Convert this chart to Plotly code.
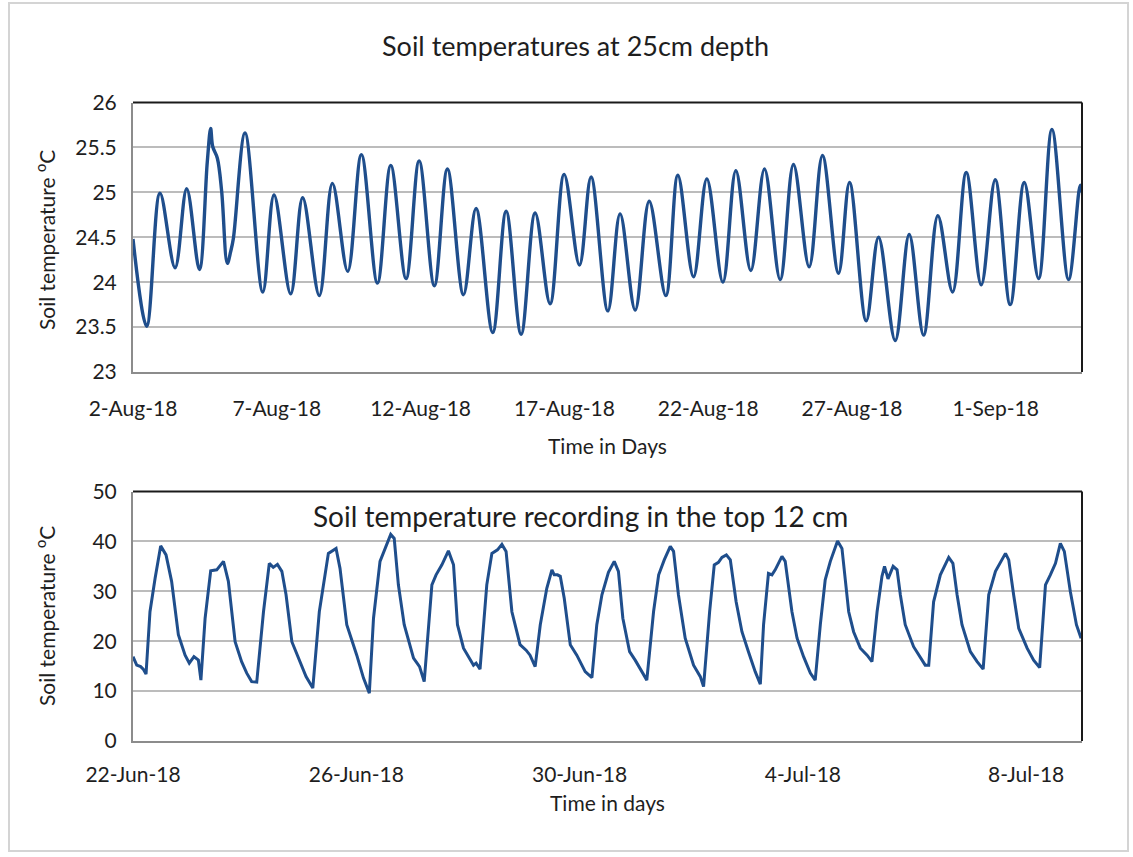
import pandas as pd
import plotly.graph_objects as go

W, H = 1133, 857

# ---------------- Data: 25 cm depth (hours since 2-Aug-18 00:00) ----------------
deep_start = "2018-08-02 00:00"
deep_hours = [0, 11.4, 22.5, 35.1, 44.8, 55.4, 62.0, 64.8, 66.5, 70.4, 74.0, 78.7, 81.5, 83.8,
              93.5, 108.3, 117.7, 131.6, 141.6, 155.5, 166.4, 179.2, 190.6, 204.0, 215.1,
              227.9, 238.8, 251.5, 262.4, 275.8, 286.3, 300.2, 311.4, 323.9, 335.6, 348.1,
              359.8, 372.6, 382.3, 396.3, 406.5, 419.1, 430.8, 444.7, 454.7, 467.8, 478.9,
              492.3, 503.1, 515.6, 527.0, 540.1, 551.2, 564.3, 575.4, 588.8, 598.0, 611.9,
              622.2, 636.1, 647.8, 659.8, 671.7, 684.0, 695.4, 707.9, 719.6, 732.1, 743.8,
              755.8, 766.9, 780.8, 790.5, 792.0]
deep_temp = [24.48, 23.51, 24.99, 24.16, 25.04, 24.14, 25.34, 25.71, 25.51, 25.38, 25.01, 24.21,
             24.34, 24.49, 25.66, 23.89, 24.97, 23.87, 24.94, 23.85, 25.10, 24.12, 25.42, 23.99,
             25.30, 24.04, 25.35, 23.96, 25.26, 23.86, 24.82, 23.44, 24.79, 23.42, 24.77, 23.76,
             25.20, 24.19, 25.17, 23.68, 24.76, 23.69, 24.90, 23.85, 25.19, 24.06, 25.15, 24.00,
             25.24, 24.13, 25.26, 24.03, 25.31, 24.17, 25.41, 24.10, 25.11, 23.57, 24.50, 23.35,
             24.53, 23.41, 24.74, 23.89, 25.22, 23.97, 25.14, 23.75, 25.11, 24.04, 25.70, 24.03,
             25.08, 25.00]
deep_ticks = ["2018-08-02", "2018-08-07", "2018-08-12", "2018-08-17", "2018-08-22",
              "2018-08-27", "2018-09-01"]
deep_ticktext = ["2-Aug-18", "7-Aug-18", "12-Aug-18", "17-Aug-18", "22-Aug-18",
                 "27-Aug-18", "1-Sep-18"]

# ---------------- Data: top 12 cm (hours since 22-Jun-18 00:00) ----------------
top_start = "2018-06-22 00:00"
top_hours = [0, 1.6, 3.3, 4.4, 5.6, 7.3, 9.5, 11.9, 14.2, 16.6, 19.5, 22.4, 24.2, 26.2, 28.1,
             29.2, 31.0, 33.4, 36.0, 38.9, 41.0, 43.9, 46.7, 48.9, 51.0, 53.2, 56.1, 58.6,
             60.3, 62.1, 64.0, 65.8, 68.3, 71.8, 74.4, 77.3, 80.1, 84.0, 87.3, 89.0, 91.9,
             96.2, 99.1, 101.6, 103.4, 106.2, 108.4, 110.8, 112.3, 114.1, 116.6, 120.6,
             123.2, 125.2, 128.5, 130.3, 132.8, 135.6, 137.8, 139.5, 142.1, 144.9, 146.4,
             147.5, 149.2, 152.1, 154.3, 156.7, 158.6, 160.4, 162.9, 166.4, 169.0, 170.7,
             172.9, 175.1, 177.9, 180.1, 181.1, 182.5, 183.7, 185.4, 188.0, 190.8, 194.4,
             197.3, 199.4, 201.6, 204.4, 206.9, 208.7, 210.6, 213.5, 215.9, 218.8, 220.9,
             223.8, 226.0, 228.4, 231.0, 232.4, 234.5, 237.4, 241.0, 243.9, 245.3, 247.9,
             249.9, 251.7, 253.2, 255.1, 256.8, 259.3, 261.8, 264.6, 267.5, 269.7, 271.1,
             273.2, 274.7, 276.1, 279.0, 280.4, 283.3, 285.5, 288.3, 291.2, 293.3, 295.5,
             297.6, 299.8, 302.9, 304.8, 307.7, 309.8, 312.7, 315.6, 317.7, 319.9, 322.0,
             323.1, 324.6, 326.8, 328.5, 329.9, 332.0, 335.6, 338.5, 340.6, 342.1, 344.2,
             347.1, 350.7, 352.5, 354.3, 356.4, 360.0, 362.9, 365.5, 367.9, 370.8, 375.1,
             376.5, 378.6, 380.8, 384.4, 387.2, 389.8, 392.3, 394.4, 396.6, 398.7, 400.4,
             403.0, 405.6, 407.6]
top_temp = [16.9, 15.2, 14.9, 14.4, 13.4, 25.9, 32.6, 39.1, 37.3, 32.0, 21.3, 17.2, 15.6, 16.9,
            16.2, 12.2, 24.6, 34.1, 34.3, 36.0, 32.0, 19.9, 15.9, 13.6, 11.9, 11.8, 25.9, 35.6,
            34.8, 35.4, 34.0, 29.3, 19.9, 15.9, 12.9, 10.6, 25.9, 37.6, 38.6, 34.6, 23.3, 17.2,
            12.6, 9.6, 24.6, 36.0, 38.6, 41.4, 40.6, 31.3, 23.3, 16.6, 14.9, 11.9, 31.3, 33.3,
            35.3, 38.1, 35.3, 23.3, 18.6, 16.2, 15.2, 15.6, 14.4, 31.3, 37.6, 38.3, 39.4, 38.0,
            25.9, 19.3, 18.2, 17.2, 14.9, 23.3, 30.6, 34.3, 33.3, 33.3, 33.0, 28.6, 19.3, 17.2,
            13.9, 12.7, 23.3, 29.3, 33.8, 36.0, 34.0, 24.6, 17.9, 16.2, 13.9, 12.2, 25.9, 33.3,
            36.3, 39.0, 38.0, 29.3, 20.6, 15.2, 12.9, 10.9, 25.9, 35.3, 35.8, 36.8, 37.3, 36.3,
            27.9, 21.9, 17.9, 13.9, 11.4, 23.3, 33.6, 33.3, 34.3, 37.0, 36.0, 25.9, 20.6, 16.9,
            13.6, 12.2, 23.3, 32.3, 36.0, 40.1, 38.6, 25.9, 21.9, 18.6, 17.2, 15.9, 25.9, 33.0,
            35.0, 32.5, 35.0, 34.3, 29.3, 23.3, 18.9, 16.6, 15.2, 15.2, 27.9, 33.3, 36.8, 35.6,
            29.3, 23.3, 17.9, 15.9, 14.4, 29.3, 34.0, 37.6, 36.3, 29.3, 22.6, 18.6, 16.2, 14.7,
            31.3, 33.3, 35.6, 39.6, 38.0, 29.9, 23.3, 20.6]
top_ticks = ["2018-06-22", "2018-06-26", "2018-06-30", "2018-07-04", "2018-07-08"]
top_ticktext = ["22-Jun-18", "26-Jun-18", "30-Jun-18", "4-Jul-18", "8-Jul-18"]

deep_x = pd.Timestamp(deep_start) + pd.to_timedelta(deep_hours, unit="h")
top_x = pd.Timestamp(top_start) + pd.to_timedelta(top_hours, unit="h")

LINE = "#1f4e8c"
GRID = "#bcbcbc"
TXT = "#1e1e1e"
FONT = "Lato"

def px_x(v):
    return v / W

def px_y(v):
    return 1 - v / H

fig = go.Figure()
fig.add_trace(go.Scatter(x=deep_x, y=deep_temp, mode="lines", xaxis="x", yaxis="y",
                         line=dict(color=LINE, width=3.4, shape="spline", smoothing=1.0),
                         showlegend=False))
fig.add_trace(go.Scatter(x=top_x, y=top_temp, mode="lines", xaxis="x2", yaxis="y2",
                         line=dict(color=LINE, width=3), showlegend=False))

xdom = [px_x(133), px_x(1082)]
ax_common = dict(showline=True, linecolor="#8c8c8c", linewidth=2, automargin=False,
                 ticks="", tickfont=dict(family=FONT, size=21, color=TXT),
                 zeroline=False)

fig.update_layout(
    width=W, height=H, margin=dict(l=0, r=0, t=0, b=0, autoexpand=False),
    paper_bgcolor="white", plot_bgcolor="white",
    font=dict(family=FONT, color=TXT),
    xaxis=dict(domain=xdom, anchor="y", type="date", showgrid=False,
               range=["2018-08-02", "2018-09-04"],
               tickvals=deep_ticks, ticktext=deep_ticktext,
               ticklabelstandoff=17, **ax_common),
    yaxis=dict(domain=[px_y(372), px_y(102.5)], anchor="x", range=[23, 26], dtick=0.5,
               tick0=23, showgrid=True, gridcolor=GRID, gridwidth=1.5,
               ticklabelstandoff=10, **ax_common),
    xaxis2=dict(domain=xdom, anchor="y2", type="date", showgrid=False,
                range=["2018-06-22", "2018-07-09"],
                tickvals=top_ticks, ticktext=top_ticktext,
                ticklabelstandoff=14, **ax_common),
    yaxis2=dict(domain=[px_y(741), px_y(491.5)], anchor="x2", range=[0, 50], dtick=10,
                showgrid=True, gridcolor=GRID, gridwidth=1.5,
                ticklabelstandoff=10, **ax_common),
)

shapes = []
for xr, yr in (("x domain", "y domain"), ("x2 domain", "y2 domain")):
    shapes.append(dict(type="line", xref=xr, yref=yr, x0=0, x1=1, y0=1, y1=1,
                       line=dict(color="#1a1a1a", width=2)))
    shapes.append(dict(type="line", xref=xr, yref=yr, x0=1, x1=1, y0=0, y1=1,
                       line=dict(color="#1a1a1a", width=2)))
shapes.append(dict(type="rect", xref="paper", yref="paper",
                   x0=px_x(9), x1=px_x(1128), y0=px_y(851), y1=px_y(3),
                   line=dict(color="#d4d4d4", width=2), layer="below"))
fig.update_layout(shapes=shapes)

ann = [
    dict(text="Soil temperatures at 25cm depth", x=px_x(575), y=px_y(45),
         font=dict(size=27)),
    dict(text="Time in Days", x=px_x(607), y=px_y(445), font=dict(size=21)),
    dict(text="Time in days", x=px_x(607), y=px_y(802), font=dict(size=21)),
    dict(text="Soil temperature <sup>o</sup>C", x=px_x(45), y=px_y(240),
         textangle=-90, font=dict(size=21)),
    dict(text="Soil temperature <sup>o</sup>C", x=px_x(45), y=px_y(616),
         textangle=-90, font=dict(size=21)),
    dict(text="Soil temperature recording in the top 12 cm", x=px_x(580), y=px_y(516),
         font=dict(size=28)),
]
for a in ann:
    a.update(xref="paper", yref="paper", showarrow=False, xanchor="center", yanchor="middle")
    a["font"].update(family=FONT, color=TXT)
fig.update_layout(annotations=ann)

fig.write_html("out.html")
